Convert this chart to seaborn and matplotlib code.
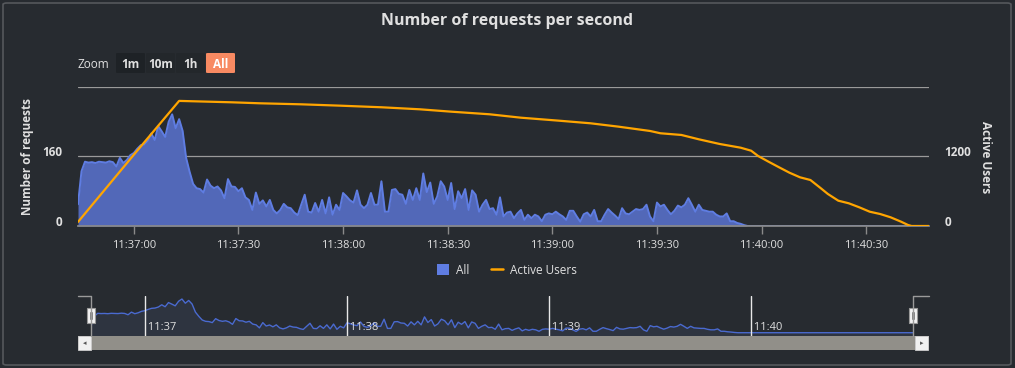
import numpy as np
import pandas as pd
import seaborn as sns
import matplotlib.pyplot as plt
import matplotlib.dates as mdates
import matplotlib.transforms as mtrans
from matplotlib.patches import FancyBboxPatch, Rectangle, Patch
from matplotlib.lines import Line2D

# requests per second (All), one value per second starting 11:36:44
req_all = [50, 126, 148, 146, 147, 145, 148, 147, 146, 149, 147, 137, 157, 145, 152, 163,
           168, 178, 186, 188, 196, 213, 198, 230, 218, 205, 240, 257, 225, 246, 219, 157,
           125, 97,
           87, 85, 77, 107, 93, 87, 91, 82, 64, 108, 91, 90, 80, 87, 66, 60, 37, 77, 51, 59,
           45, 60, 37, 29, 37, 51, 43, 41, 31, 25, 49, 72, 33, 31, 53,
           33, 60, 29, 66, 26, 49, 37, 76, 68, 59, 54, 82, 49, 41, 49, 76, 49, 49, 103, 33,
           33, 83, 85, 74, 72, 51, 83, 60, 87, 60, 121, 78, 100, 51, 68, 103,
           91, 60, 99, 39, 80, 64, 85, 37, 82, 72, 33, 49, 60, 39, 41, 26, 66, 22, 31, 33,
           18, 29, 37, 14, 26, 18, 26, 22, 11, 26, 29, 27, 33, 27, 22,
           14, 35, 35, 22, 10, 27, 31, 22, 37, 11, 11, 26, 39, 31, 24, 16, 41, 29, 27, 33,
           39, 37, 39, 49, 22, 11, 54, 45, 49, 37, 27, 35, 47, 43, 49, 64,
           49, 33, 49, 37, 35, 33, 33, 26, 22, 22, 29, 11, 11, 7, 5, 2] + [0] * 53

# active users, read at these seconds after 11:36:44
user_secs = [0, 16, 29, 44, 52, 64, 75, 87, 98, 107, 118, 127, 138, 147, 155, 164, 167,
             173, 178, 184, 190, 193, 195, 198, 201, 204, 207, 210, 213, 215, 218, 221,
             224, 227, 230, 233, 236, 238, 239, 244]
user_vals = [70, 1230, 2160, 2136, 2119, 2101, 2078, 2050, 2015, 1974, 1929, 1870, 1818,
             1773, 1715, 1641, 1601, 1572, 1497, 1416, 1352, 1300, 1209, 1110, 1014, 920,
             841, 794, 651, 553, 437, 392, 323, 247, 207, 150, 74, 17, 0, 0]

start = pd.Timestamp("2024-01-01 11:36:44")
req_times = start + pd.to_timedelta(np.arange(len(req_all)), unit="s")
user_times = start + pd.to_timedelta(user_secs, unit="s")

BG = "#272b30"
TXT = "#e0e0e0"
FILL = "#5268b8"
LINE = "#5f7de2"
ORANGE = "#ffa500"
GRID = "#9a9a9a"

W, H = 1015, 368

sns.set_theme(style="dark", rc={"axes.facecolor": BG, "figure.facecolor": BG})
plt.rcParams["font.family"] = ["Open Sans", "DejaVu Sans"]


def fbox(x0, y0, x1, y1):
    # pixel box (top-left origin) -> figure fraction rect
    return [x0 / W, 1 - y1 / H, (x1 - x0) / W, (y1 - y0) / H]


fig = plt.figure(figsize=(W / 100, H / 100), dpi=100)
lift = mtrans.ScaledTranslation(0, 5 / 100, fig.dpi_scale_trans)

# outer frame
fig.patches.append(FancyBboxPatch((3 / W, 3 / H), 1008 / W, 362 / H,
                                  boxstyle="round,pad=0,rounding_size=0.004",
                                  transform=fig.transFigure, fill=False,
                                  ec="#55585c", lw=1.2))

fig.text(507 / W, 1 - 21 / H, "Number of requests per second", ha="center", va="center",
         color=TXT, fontsize=11.5, fontweight="bold")

# zoom buttons
fig.text(78 / W, 1 - 64 / H, "Zoom", ha="left", va="center", color=TXT, fontsize=8.5)
buttons = ["1m", "10m", "1h", "All"]
btn_bg = ["#1e2226", "#23272b", "#23272b", "#f88a62"]
for i, (lab, bc) in enumerate(zip(buttons, btn_bg)):
    x0 = 116 + i * 30
    fig.patches.append(FancyBboxPatch((x0 / W, 1 - 73 / H), 29 / W, 20 / H,
                                      boxstyle="round,pad=0,rounding_size=0.002",
                                      transform=fig.transFigure, fc=bc, ec="none"))
    fig.text((x0 + 14.5) / W, 1 - 64 / H, lab, ha="center", va="center",
             color="white" if lab == "All" else TXT, fontsize=8.5, fontweight="bold")

# main chart
ax = fig.add_axes(fbox(78, 87, 929, 226))
ax.fill_between(req_times, req_all, color=FILL, lw=0)
sns.lineplot(x=req_times, y=req_all, ax=ax, color=LINE, lw=1.4)
ax.set_xlim(req_times[0], req_times[-1])
ax.set_ylim(0, 320)
ax.set_yticks([0, 160, 320])
ax.set_yticklabels(["0", "160", ""])
ax.yaxis.grid(True, color=GRID, lw=0.9)
ax.xaxis.grid(False)
for s in ["top", "left", "right"]:
    ax.spines[s].set_visible(False)
ax.spines["bottom"].set_color("#8a8a8a")
ax.xaxis.set_major_locator(mdates.SecondLocator(bysecond=[0, 30]))
ax.xaxis.set_major_formatter(mdates.DateFormatter("%H:%M:%S"))
ax.tick_params(axis="x", colors="#8a8a8a", labelcolor=TXT, labelsize=8, length=6,
               width=1, pad=4, bottom=True)
ax.tick_params(axis="y", labelcolor=TXT, labelsize=8.5, length=0, pad=11)
for t in ax.get_yticklabels():
    t.set_fontweight("bold")
    t.set_transform(t.get_transform() + lift)
ax.set_xlabel("")
ax.set_ylabel("")

ax2 = ax.twinx()
sns.lineplot(x=user_times, y=user_vals, ax=ax2, color=ORANGE, lw=1.6)
ax2.set_ylim(0, 2400)
ax2.set_yticks([0, 1200, 2400])
ax2.set_yticklabels(["0", "1200", ""])
ax2.grid(False)
for s in ax2.spines.values():
    s.set_visible(False)
ax2.tick_params(axis="y", labelcolor=TXT, labelsize=8.5, length=0, pad=11)
for t in ax2.get_yticklabels():
    t.set_fontweight("bold")
    t.set_transform(t.get_transform() + lift)
ax2.set_ylabel("")
ax2.set_xlim(req_times[0], req_times[-1])

fig.text(28 / W, 1 - 157 / H, "Number of requests", rotation=90, ha="center", va="center",
         color=TXT, fontsize=8.5, fontweight="bold")
fig.text(986 / W, 1 - 157 / H, "Active Users", rotation=270, ha="center", va="center",
         color=TXT, fontsize=8.5, fontweight="bold")

# legend
handles = [Patch(facecolor=LINE, edgecolor="none", label="All"),
           Line2D([0], [0], color=ORANGE, lw=1.8, label="Active Users")]
fig.legend(handles=handles, loc="center", bbox_to_anchor=(507 / W, 1 - 270 / H), ncol=2,
           frameon=False, fontsize=8.5, labelcolor=TXT, handlelength=1.0, handleheight=1.0,
           handletextpad=0.6, columnspacing=1.8)

# navigator
nav = fig.add_axes(fbox(91, 296, 913, 336))
nav.fill_between(req_times, req_all, -25, color="#2e3440", lw=0)
sns.lineplot(x=req_times, y=req_all, ax=nav, color="#4a6ad0", lw=1.0)
nav.set_xlim(req_times[0], req_times[-1])
nav.set_ylim(-25, 280)
nav.set_xticks([])
nav.set_yticks([])
nav.set_xlabel("")
nav.set_ylabel("")
for s in nav.spines.values():
    s.set_visible(False)
for m in pd.date_range("2024-01-01 11:37", "2024-01-01 11:40", freq="min"):
    nav.axvline(m, color="#e8e8e8", lw=1)
    nav.text(m, 0.2, " " + m.strftime("%H:%M"), transform=nav.get_xaxis_transform(),
             color=TXT, fontsize=8, ha="left", va="center")

# scrollbar and handles
fig.patches.append(Rectangle((78 / W, 1 - 350 / H), 851 / W, 14 / H,
                             transform=fig.transFigure, fc="#918f89", ec="none"))
for x0 in (78, 915):
    fig.patches.append(Rectangle((x0 / W, 1 - 350 / H), 13 / W, 14 / H,
                                 transform=fig.transFigure, fc="#f0f0f0", ec="#cccccc",
                                 lw=0.6))
fig.text(84.5 / W, 1 - 343 / H, "\u25c2", ha="center", va="center", color="#555",
         fontsize=5, family="DejaVu Sans")
fig.text(921.5 / W, 1 - 343 / H, "\u25b8", ha="center", va="center", color="#555",
         fontsize=5, family="DejaVu Sans")
fig.lines.append(Line2D([78 / W, 91 / W, 91 / W], [1 - 296 / H, 1 - 296 / H, 1 - 336 / H],
                        transform=fig.transFigure, color="#9a9a9a", lw=1))
fig.lines.append(Line2D([913 / W, 913 / W, 929 / W], [1 - 336 / H, 1 - 296 / H, 1 - 296 / H],
                        transform=fig.transFigure, color="#9a9a9a", lw=1))
for xc in (91, 913):
    fig.patches.append(Rectangle(((xc - 4) / W, 1 - 323 / H), 8 / W, 15 / H,
                                 transform=fig.transFigure, fc="#f2f2f2", ec="#999999",
                                 lw=0.8))
    for dx in (-1.2, 1.2):
        fig.lines.append(Line2D([(xc + dx) / W] * 2, [1 - 312 / H, 1 - 319 / H],
                                transform=fig.transFigure, color="#777777", lw=0.6))

fig.savefig("out.png", dpi=100, facecolor=BG)
